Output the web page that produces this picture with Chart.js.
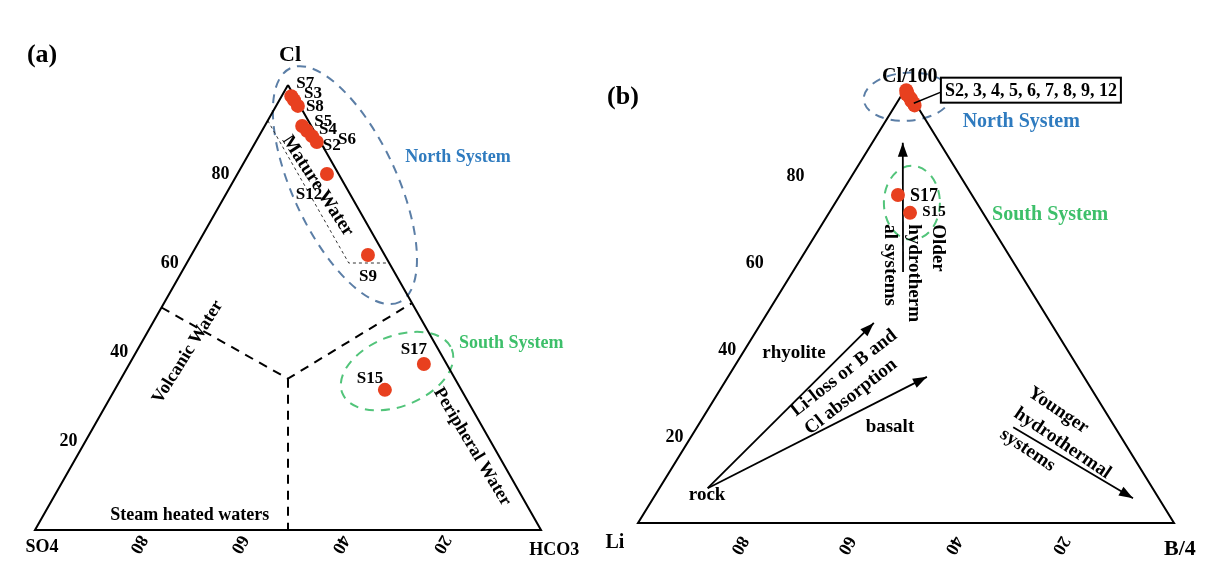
<!DOCTYPE html>
<html>
<head>
<meta charset="utf-8">
<script src="https://cdn.jsdelivr.net/npm/chart.js@4"></script>
<style>
  html, body { margin: 0; padding: 0; background: #fff; }
  .wrap { position: relative; width: 1206px; height: 571px; }
  #chartA { position: absolute; left: 0; top: 0; }
  #chartB { position: absolute; left: 600px; top: 0; }
</style>
</head>
<body>
<div class="wrap">
  <canvas id="chartA" width="600" height="571"></canvas>
  <canvas id="chartB" width="606" height="571"></canvas>
</div>
<script>
// (a) Cl - SO4 - HCO3, in percent
const samplesA = ["S7", "S3", "S8", "S5", "S4", "S6", "S2", "S12", "S9", "S17", "S15"];
const clA   = [97.5, 96.6, 95.3, 90.8, 89.7, 88.5, 87.2, 80.0, 61.8, 37.3, 31.5];
const so4A  = [0.6, 0.5, 0.4, 1.8, 1.4, 1.0, 0.7, 2.3, 3.3, 4.5, 15.1];
const hco3A = [1.9, 2.9, 4.3, 7.4, 8.9, 10.5, 12.1, 17.7, 34.9, 58.2, 53.4];

// (b) Cl/100 - Li - B/4, in percent
const samplesB = ["S2", "S3", "S4", "S5", "S6", "S7", "S8", "S9", "S12", "S17", "S15"];
const clB = [99.0, 98.0, 97.0, 96.5, 99.5, 98.5, 97.5, 96.0, 98.8, 75.4, 71.3];
const liB = [0.3, 0.4, 0.5, 0.3, 0.2, 0.6, 0.3, 0.4, 0.5, 13.8, 13.6];
const bB  = [0.7, 1.6, 2.5, 3.2, 0.3, 0.9, 2.2, 3.6, 0.7, 10.8, 15.1];

const tickValues = [20, 40, 60, 80];

// ternary -> x/y of the scatter scales (top vertex, left vertex, right vertex)
function tern(top, left, right) {
  const s = top + left + right;
  return { x: (right + top / 2) / s, y: top / s };
}

const SERIF = "'Liberation Serif', 'Times New Roman', serif";
const DOT = "#e8401f";
const BLUE_TXT = "#2f7bbf", GREEN_TXT = "#3dbf6a";
const BLUE_ELL = "#5b7ea6", GREEN_ELL = "#52c47a";

// label offsets (pixels) from each point
const offA = [[14, -13], [19, -7], [17, 1], [21, -4], [21, -1], [35, 3], [15, 4], [-18, 21], [0, 22], [-10, -14], [-15, -11]];
const offB = [null, null, null, null, null, null, null, null, null, [26, 1], [24, -1]];
const sideTickDxB = [-17, -18, -44, -57];

function lineSet(pts, opts) {
  return Object.assign({
    data: pts, showLine: true, borderColor: "#000", borderWidth: 2,
    pointRadius: 0, fill: false, clip: false, tension: 0
  }, opts || {});
}

// draws ellipses, arrowheads and all texts
const decor = {
  id: "decor",
  beforeDatasetsDraw(chart, args, o) {
    const ctx = chart.ctx;
    (o.ellipses || []).forEach((e) => {
      const p = tern(...e.at);
      const x = chart.scales.x.getPixelForValue(p.x);
      const y = chart.scales.y.getPixelForValue(p.y);
      ctx.save();
      ctx.strokeStyle = e.color;
      ctx.lineWidth = 2;
      ctx.setLineDash([9, 7]);
      ctx.beginPath();
      ctx.ellipse(x, y, e.rx, e.ry, (e.rot * Math.PI) / 180, 0, Math.PI * 2);
      ctx.stroke();
      ctx.restore();
    });
  },
  afterDatasetsDraw(chart, args, o) {
    const ctx = chart.ctx;
    const sx = chart.scales.x, sy = chart.scales.y;
    chart.data.datasets.forEach((ds, i) => {
      if (!ds.arrow) return;
      const pts = chart.getDatasetMeta(i).data;
      const a = pts[pts.length - 2], b = pts[pts.length - 1];
      ctx.save();
      ctx.translate(b.x, b.y);
      ctx.rotate(Math.atan2(b.y - a.y, b.x - a.x));
      ctx.beginPath();
      ctx.moveTo(0, 0);
      ctx.lineTo(-14, -5);
      ctx.lineTo(-14, 5);
      ctx.closePath();
      ctx.fillStyle = "#000";
      ctx.fill();
      ctx.restore();
    });

    // callout box
    if (o.box) {
      const bx = sx.getPixelForValue(o.box.at[0]);
      const by = sy.getPixelForValue(o.box.at[1]);
      ctx.save();
      ctx.font = "bold 18px " + SERIF;
      const w = ctx.measureText(o.box.text).width + 8;
      const h = 25;
      const t = tern(...o.box.target);
      ctx.strokeStyle = "#000";
      ctx.lineWidth = 1.5;
      ctx.beginPath();
      ctx.moveTo(bx - w / 2, by + 2);
      ctx.lineTo(sx.getPixelForValue(t.x), sy.getPixelForValue(t.y));
      ctx.stroke();
      ctx.fillStyle = "#fff";
      ctx.fillRect(bx - w / 2, by - h / 2, w, h);
      ctx.lineWidth = 2;
      ctx.strokeRect(bx - w / 2, by - h / 2, w, h);
      ctx.fillStyle = "#000";
      ctx.textAlign = "center";
      ctx.textBaseline = "middle";
      ctx.fillText(o.box.text, bx, by + 1);
      ctx.restore();
    }

    (o.texts || []).forEach((t) => {
      let x, y;
      if (t.tern) {
        const p = tern(...t.tern);
        x = sx.getPixelForValue(p.x);
        y = sy.getPixelForValue(p.y);
      } else {
        x = sx.getPixelForValue(t.at[0]);
        y = sy.getPixelForValue(t.at[1]);
      }
      x += t.dx || 0;
      y += t.dy || 0;
      ctx.save();
      ctx.translate(x, y);
      ctx.rotate(((t.rot || 0) * Math.PI) / 180);
      ctx.font = "bold " + (t.size || 18) + "px " + SERIF;
      ctx.fillStyle = t.color || "#000";
      ctx.textAlign = t.align || "center";
      ctx.textBaseline = "middle";
      const lines = Array.isArray(t.text) ? t.text : [t.text];
      lines.forEach((ln, k) => ctx.fillText(ln, 0, k * (t.lh || 0)));
      ctx.restore();
    });
  }
};

function baseOptions(padding, decorOpts) {
  return {
    responsive: false,
    animation: false,
    devicePixelRatio: 1,
    events: [],
    layout: { padding },
    scales: {
      x: { type: "linear", min: 0, max: 1, display: false },
      y: { type: "linear", min: 0, max: 1, display: false }
    },
    plugins: { legend: { display: false }, tooltip: { enabled: false }, decor: decorOpts }
  };
}

// ---------- (a) ----------
const textsA = [
  { text: "(a)", at: [0.014, 1.067], size: 26 },
  { text: "Cl", at: [0.504, 1.067], size: 22 },
  { text: "SO4", at: [0.014, -0.040] },
  { text: "HCO3", at: [1.026, -0.045] },
  { text: "Steam heated waters", at: [0.306, 0.034] },
  { text: "Volcanic Water", at: [0.302, 0.400], rot: -58 },
  { text: "Mature Water", at: [0.559, 0.773], rot: 57, size: 19 },
  { text: "Peripheral Water", at: [0.864, 0.187], rot: 59 },
  { text: "North System", at: [0.836, 0.838], color: BLUE_TXT },
  { text: "South System", at: [0.941, 0.420], color: GREEN_TXT }
];
tickValues.forEach((v) => {
  textsA.push({ text: String(v), tern: [v, 100 - v, 0], dx: -17, dy: 0 });
  textsA.push({ text: String(v), tern: [0, v, 100 - v], dx: 2, dy: 14, rot: 120 });
});
samplesA.forEach((s, i) => {
  textsA.push({ text: s, tern: [clA[i], so4A[i], hco3A[i]], dx: offA[i][0], dy: offA[i][1], size: 17 });
});

new Chart(document.getElementById("chartA"), {
  type: "scatter",
  data: {
    datasets: [
      {
        data: samplesA.map((s, i) => tern(clA[i], so4A[i], hco3A[i])),
        pointRadius: 7, pointBackgroundColor: DOT, pointBorderWidth: 0, clip: false
      },
      lineSet([tern(100, 0, 0), tern(0, 100, 0), tern(0, 0, 100), tern(100, 0, 0)]),
      lineSet([tern(50, 50, 0), tern(34, 33, 33), tern(51, 0, 49)], { borderDash: [9, 7] }),
      lineSet([tern(34, 33, 33), tern(0, 50, 50)], { borderDash: [9, 7] }),
      lineSet([tern(92, 8, 0), tern(60, 8, 32), tern(60, 0, 40)], { borderDash: [3, 3], borderWidth: 1, borderColor: "#333" })
    ]
  },
  options: baseOptions({ left: 35, right: 59, top: 85, bottom: 41 }, {
    ellipses: [
      { at: [77.5, 0, 22.5], rx: 129, ry: 52, rot: 65, color: BLUE_ELL },
      { at: [35.7, 10.6, 53.7], rx: 59, ry: 35, rot: -22, color: GREEN_ELL }
    ],
    texts: textsA
  }),
  plugins: [decor]
});

// ---------- (b) ----------
const textsB = [
  { text: "(b)", at: [-0.028, 0.979], size: 26 },
  { text: "Cl/100", at: [0.507, 1.025], size: 20 },
  { text: "Li", at: [-0.043, -0.046], size: 20 },
  { text: "B/4", at: [1.011, -0.060], size: 22 },
  { text: "rock", at: [0.129, 0.064], size: 19 },
  { text: "rhyolite", at: [0.291, 0.391], size: 19 },
  { text: "basalt", at: [0.470, 0.221], size: 19 },
  { text: ["Li-loss or B and", "Cl absorption"], at: [0.289, 0.253], rot: -38, align: "left", lh: 23, size: 19 },
  { text: ["Younger", "hydrothermal", "systems"], at: [0.731, 0.303], rot: 34, align: "left", lh: 25, size: 19 },
  { text: ["Older", "hydrotherm", "al systems"], at: [0.560, 0.687], rot: 90, align: "left", lh: 24, size: 19 },
  { text: "North System", at: [0.715, 0.922], size: 20, color: BLUE_TXT },
  { text: "South System", at: [0.769, 0.708], size: 20, color: GREEN_TXT }
];
tickValues.forEach((v, k) => {
  textsB.push({ text: String(v), tern: [v, 100 - v, 0], dx: sideTickDxB[k], dy: 1 });
  textsB.push({ text: String(v), tern: [0, v, 100 - v], dx: -6, dy: 22, rot: 120 });
});
samplesB.forEach((s, i) => {
  if (!offB[i]) return;
  textsB.push({ text: s, tern: [clB[i], liB[i], bB[i]], dx: offB[i][0], dy: offB[i][1], size: s === "S15" ? 15 : 18 });
});

new Chart(document.getElementById("chartB"), {
  type: "scatter",
  data: {
    datasets: [
      {
        data: samplesB.map((s, i) => tern(clB[i], liB[i], bB[i])),
        pointRadius: 7, pointBackgroundColor: DOT, pointBorderWidth: 0, clip: false
      },
      lineSet([tern(100, 0, 0), tern(0, 100, 0), tern(0, 0, 100), tern(100, 0, 0)]),
      lineSet([tern(8, 83, 9), tern(46, 33, 21)], { arrow: true, borderWidth: 1.8 }),
      lineSet([tern(8, 83, 9), tern(33.6, 29.3, 37.1)], { arrow: true, borderWidth: 1.8 }),
      lineSet([tern(57.7, 21.7, 20.6), tern(87.4, 6.9, 5.7)], { arrow: true, borderWidth: 1.8 }),
      lineSet([tern(22, 19, 59), tern(5.7, 4.8, 89.5)], { arrow: true, borderWidth: 1.8 })
    ]
  },
  options: baseOptions({ left: 38, right: 32, top: 88, bottom: 48 }, {
    ellipses: [
      { at: [98, 0.7, 1.3], rx: 44, ry: 24, rot: -4, color: BLUE_ELL },
      { at: [73.6, 12.1, 14.3], rx: 28, ry: 37, rot: 0, color: GREEN_ELL }
    ],
    box: { text: "S2, 3, 4, 5, 6, 7, 8, 9, 12", at: [0.733, 0.995], target: [96.5, 0.3, 3.2] },
    texts: textsB
  }),
  plugins: [decor]
});
</script>
</body>
</html>
